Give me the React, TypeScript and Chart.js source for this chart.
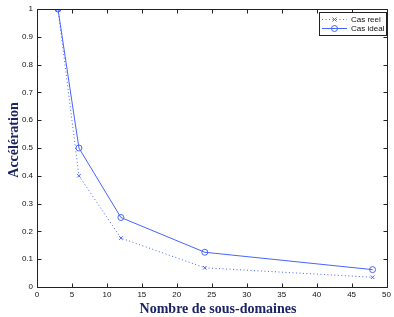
import React, { useEffect, useRef } from "react";
import { Chart, registerables } from "chart.js";

Chart.register(...registerables);

const xValues = [3, 6, 12, 24, 48];
const casReel = [1, 0.4, 0.176, 0.069, 0.035];
const casIdeal = [1, 0.5, 0.25, 0.125, 0.0625];
const seriesNames = ["Cas reel", "Cas ideal"];
const xTitle = "Nombre de sous-domaines";
const yTitle = "Accélération";

const BLUE = "rgb(70,100,255)";
const NAVY = "#1c2466";
const TICK_FAMILY = "'Liberation Sans', Arial, sans-serif";
const TICK_FONT = "8px " + TICK_FAMILY;
const TITLE_FONT = "bold 14px 'Liberation Serif', 'Times New Roman', serif";

const framePlugin = {
  id: "frame",
  afterDraw(chart: any) {
    const ctx = chart.ctx;
    const { left, right, top, bottom } = chart.chartArea;
    const xs = chart.scales.x;
    const ys = chart.scales.y;
    ctx.save();
    ctx.strokeStyle = "#222";
    ctx.lineWidth = 1;
    ctx.beginPath();
    const L = Math.round(left) + 0.5, R = Math.round(right) + 0.5;
    const T = Math.round(top) + 0.5, B = Math.round(bottom) + 0.5;
    ctx.rect(L, T, R - L, B - T);
    const tl = 4;
    for (let v = 0; v <= 50; v += 5) {
      const px = Math.round(xs.getPixelForValue(v)) + 0.5;
      ctx.moveTo(px, B); ctx.lineTo(px, B - tl);
      ctx.moveTo(px, T); ctx.lineTo(px, T + tl);
    }
    for (let i = 0; i <= 10; i++) {
      const py = Math.round(ys.getPixelForValue(i / 10)) + 0.5;
      ctx.moveTo(L, py); ctx.lineTo(L + tl, py);
      ctx.moveTo(R, py); ctx.lineTo(R - tl, py);
    }
    ctx.stroke();

    // axis titles
    ctx.fillStyle = NAVY;
    ctx.font = TITLE_FONT;
    ctx.textAlign = "center";
    ctx.textBaseline = "middle";
    ctx.fillText(xTitle, 218, 309);
    ctx.save();
    ctx.translate(14, 140);
    ctx.rotate(-Math.PI / 2);
    ctx.fillText(yTitle, 0, 0);
    ctx.restore();

    // legend
    const lx = 319, ly = 12, lw = 67, lh = 23;
    ctx.fillStyle = "#fff";
    ctx.fillRect(lx, ly, lw, lh);
    ctx.strokeStyle = "#222";
    ctx.strokeRect(lx + 0.5, ly + 0.5, lw, lh);
    const rows = [ly + 7.5, ly + 16.5];
    ctx.font = TICK_FONT;
    ctx.textAlign = "left";
    ctx.textBaseline = "middle";
    rows.forEach((ry, i) => {
      ctx.strokeStyle = BLUE;
      ctx.lineWidth = 1;
      ctx.setLineDash(i === 0 ? [1, 2.5] : []);
      ctx.beginPath();
      ctx.moveTo(lx + 3, ry);
      ctx.lineTo(lx + 28, ry);
      ctx.stroke();
      ctx.setLineDash([]);
      const cx = lx + 15.5;
      ctx.beginPath();
      if (i === 0) {
        ctx.moveTo(cx - 2, ry - 2); ctx.lineTo(cx + 2, ry + 2);
        ctx.moveTo(cx - 2, ry + 2); ctx.lineTo(cx + 2, ry - 2);
      } else {
        ctx.arc(cx, ry, 3, 0, Math.PI * 2);
      }
      ctx.stroke();
      ctx.fillStyle = "#111";
      ctx.fillText(seriesNames[i], lx + 32, ry);
    });
    ctx.restore();
  },
};

export default function App() {
  const ref = useRef<HTMLCanvasElement>(null);
  useEffect(() => {
    document.body.style.margin = "0";
    const chart = new Chart(ref.current!, {
      type: "line",
      data: {
        datasets: [
          {
            label: seriesNames[0],
            data: xValues.map((x, i) => ({ x, y: casReel[i] })),
            borderColor: BLUE,
            backgroundColor: BLUE,
            borderWidth: 1,
            borderDash: [1, 2.5],
            pointStyle: "crossRot",
            pointRadius: 2.5,
            pointBorderWidth: 1,
            tension: 0,
          },
          {
            label: seriesNames[1],
            data: xValues.map((x, i) => ({ x, y: casIdeal[i] })),
            borderColor: BLUE,
            backgroundColor: "rgba(0,0,0,0)",
            borderWidth: 1,
            pointStyle: "circle",
            pointRadius: 3,
            pointBorderWidth: 1,
            tension: 0,
          },
        ],
      },
      options: {
        animation: false,
        responsive: false,
        layout: { padding: { top: 9, right: 5, left: 0, bottom: 0 } },
        plugins: { legend: { display: false }, tooltip: { enabled: false } },
        scales: {
          x: {
            type: "linear",
            min: 0,
            max: 50,
            ticks: {
              stepSize: 5,
              color: "#111",
              font: { family: TICK_FAMILY, size: 8 },
              padding: 3,
              maxRotation: 0,
            },
            grid: { display: false, drawTicks: false },
            border: { display: false },
            afterFit: (s: any) => { s.height = 30; },
          },
          y: {
            min: 0,
            max: 1,
            ticks: {
              stepSize: 0.1,
              color: "#111",
              font: { family: TICK_FAMILY, size: 8 },
              padding: 4,
              callback: (v: any) => String(Math.round(Number(v) * 10) / 10),
            },
            grid: { display: false, drawTicks: false },
            border: { display: false },
            afterFit: (s: any) => { s.width = 37; },
          },
        },
      },
      plugins: [framePlugin],
    });
    return () => chart.destroy();
  }, []);
  return <canvas ref={ref} width={394} height={317} style={{ display: "block" }} />;
}
